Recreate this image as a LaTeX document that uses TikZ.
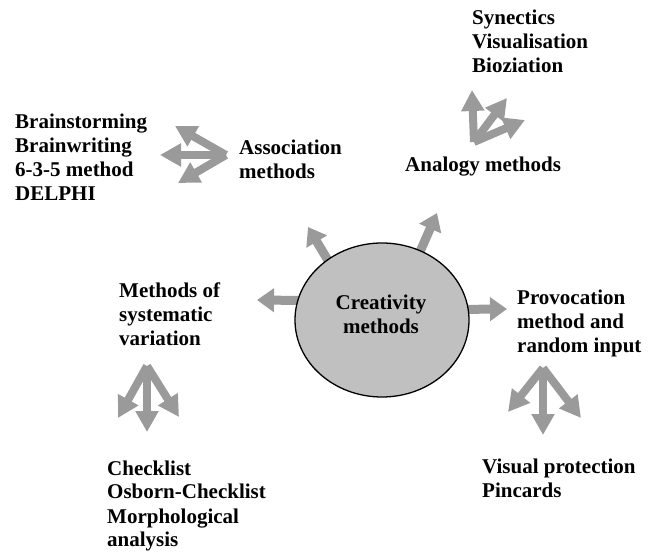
\documentclass[tikz,border=0pt]{standalone}
\usepackage{fontspec}
\setmainfont{Liberation Serif}
\usetikzlibrary{arrows.meta,shapes.geometric,backgrounds}
\definecolor{arrgray}{HTML}{9A9A9A}
\definecolor{ellfill}{HTML}{C0C0C0}
\newcommand{\mlines}[1]{\begin{tabular}[t]{@{}l@{}}#1\end{tabular}}
\newcommand{\clines}[1]{\begin{tabular}[t]{@{}c@{}}#1\end{tabular}}
\tikzset{
  lbl/.style={font=\bfseries\fontsize{21}{24}\selectfont, inner sep=0pt, anchor=base west},
  barrow/.style={draw=arrgray, line width=9pt, -{Triangle[width=23pt,length=17pt]}, shorten <=-6pt},
  carrow/.style={draw=arrgray, line width=8pt, -{Triangle[width=22pt,length=21pt]}},
  hub/.style={draw=black, line width=1.3pt, fill=ellfill, ellipse, minimum width=174pt, minimum height=154pt, inner sep=0pt}
}
\begin{document}
\begin{tikzpicture}[x=1pt,y=-1pt]
\useasboundingbox (0,0) rectangle (659,553);
% central ellipse
\node[hub] (c) at (382,320) {};
\node[lbl, anchor=base] (ct) at (381,310) {\clines{Creativity\\methods}};
% labels
\node[lbl] (syn) at (472,25) {\mlines{Synectics\\Visualisation\\Bioziation}};
\node[lbl] (brain) at (15,129) {\mlines{Brainstorming\\Brainwriting\\6-3-5 method\\DELPHI}};
\node[lbl] (assoc) at (239,155) {\mlines{Association\\methods}};
\node[lbl] (analog) at (405,172) {\mlines{Analogy methods}};
\node[lbl] (sysvar) at (119,298) {\mlines{Methods of\\systematic\\variation}};
\node[lbl] (provoc) at (517,305) {\mlines{Provocation\\method and\\random input}};
\node[lbl] (check) at (107,475) {\mlines{Checklist\\Osborn-Checklist\\Morphological\\analysis}};
\node[lbl] (visual) at (482,473) {\mlines{Visual protection\\Pincards}};
% arrow end points
\coordinate (t1) at (308,227);
\coordinate (t2) at (437,213);
\coordinate (t3) at (257,300);
\coordinate (t4) at (507,309);
\begin{scope}[on background layer]
\draw[barrow] (c.132) -- (t1);
\draw[barrow] (c.61) -- (t2);
\draw[barrow] (c.167) -- (t3);
\draw[barrow] (c.7) -- (t4);
\end{scope}
% association cluster
\coordinate (ao) at (226,155);
\coordinate (a1) at (175,126);
\coordinate (a2) at (160,155);
\coordinate (a3) at (178,183);
\draw[carrow] (ao) -- (a1);
\draw[carrow] (ao) -- (a2);
\draw[carrow] (ao) -- (a3);
% analogy cluster
\coordinate (go) at (474,142);
\coordinate (g1) at (472,90);
\coordinate (g2) at (507,98);
\coordinate (g3) at (525,120);
\draw[carrow] (go) -- (g1);
\draw[carrow] (go) -- (g2);
\draw[carrow] (go) -- (g3);
% systematic variation cluster
\coordinate (so) at (147,366);
\coordinate (s1) at (118,418);
\coordinate (s2) at (147,432);
\coordinate (s3) at (179,417);
\draw[carrow] (so) -- (s1);
\draw[carrow] (so) -- (s2);
\draw[carrow] (so) -- (s3);
% provocation cluster
\coordinate (po) at (543,368);
\coordinate (p1) at (508,412);
\coordinate (p2) at (543,435);
\coordinate (p3) at (581,418);
\draw[carrow] (po) -- (p1);
\draw[carrow] (po) -- (p2);
\draw[carrow] (po) -- (p3);
\end{tikzpicture}
\end{document}
